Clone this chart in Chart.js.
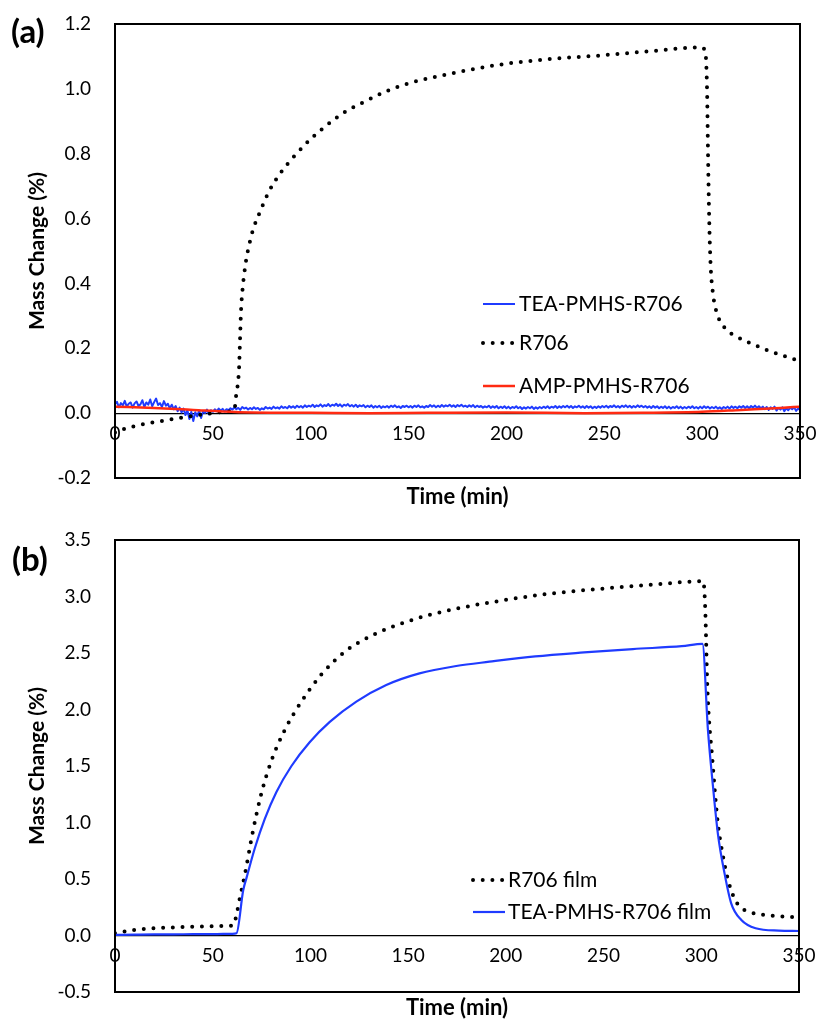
<!DOCTYPE html>
<html>
<head>
<meta charset="utf-8">
<script src="https://cdn.jsdelivr.net/npm/chart.js@4.4.1/dist/chart.umd.min.js"></script>
<style>
  html, body { margin: 0; padding: 0; background: #fff; }
  #wrap { position: relative; width: 819px; height: 1021px; }
  canvas { position: absolute; left: 0; }
  #chart-a { top: 0; }
  #chart-b { top: 510px; }
</style>
</head>
<body>
<div id="wrap">
  <canvas id="chart-a" width="819" height="510"></canvas>
  <canvas id="chart-b" width="819" height="511"></canvas>
</div>
<script>
// ---- ticks ----
const xTicks = [0, 50, 100, 150, 200, 250, 300, 350];
const yTicksA = [-0.2, 0, 0.2, 0.4, 0.6, 0.8, 1.0, 1.2];
const yTicksB = [-0.5, 0, 0.5, 1.0, 1.5, 2.0, 2.5, 3.0, 3.5];

// ---- data, panel (a) ----
const teaStepA = 1; // minutes between TEA-PMHS-R706 readings
const teaA = [
  0.028, 0.035, 0.018, 0.031, 0.024, 0.038, 0.020, 0.029, 0.033, 0.017,
  0.030, 0.036, 0.022, 0.027, 0.040, 0.019, 0.033, 0.026, 0.042, 0.021,
  0.034, 0.045, 0.025, 0.031, 0.019, 0.037, 0.023, 0.029, 0.015, 0.026,
  0.012, 0.022, 0.006, 0.017, 0.002, 0.014, -0.006, 0.009, -0.018, 0.004,
  -0.024, 0.003, -0.010, 0.008, -0.015, 0.006, 0.000, 0.011, -0.004, 0.009,
  0.004, 0.012, 0.006, 0.014, 0.008, 0.013, 0.005, 0.012, 0.009, 0.015,
  0.011, 0.018, 0.012, 0.016, 0.010, 0.019, 0.014, 0.017, 0.011, 0.016,
  0.012, 0.018, 0.013, 0.016, 0.010, 0.015, 0.012, 0.019, 0.014, 0.017,
  0.013, 0.020, 0.015, 0.018, 0.014, 0.021, 0.016, 0.019, 0.015, 0.022,
  0.017, 0.021, 0.016, 0.023, 0.018, 0.022, 0.017, 0.024, 0.019, 0.023,
  0.020, 0.026, 0.019, 0.024, 0.021, 0.027, 0.020, 0.025, 0.022, 0.028,
  0.021, 0.026, 0.023, 0.029, 0.022, 0.027, 0.020, 0.026, 0.023, 0.028,
  0.021, 0.025, 0.020, 0.026, 0.019, 0.024, 0.021, 0.025, 0.018, 0.023,
  0.019, 0.024, 0.017, 0.022, 0.018, 0.023, 0.016, 0.021, 0.018, 0.022,
  0.017, 0.023, 0.019, 0.024, 0.018, 0.021, 0.016, 0.022, 0.019, 0.023,
  0.018, 0.022, 0.017, 0.023, 0.019, 0.024, 0.018, 0.021, 0.017, 0.022,
  0.019, 0.025, 0.020, 0.024, 0.018, 0.023, 0.019, 0.025, 0.020, 0.024,
  0.021, 0.026, 0.020, 0.024, 0.019, 0.025, 0.021, 0.026, 0.020, 0.023,
  0.019, 0.024, 0.020, 0.025, 0.018, 0.023, 0.019, 0.022, 0.017, 0.021,
  0.018, 0.023, 0.016, 0.021, 0.017, 0.022, 0.015, 0.020, 0.016, 0.021,
  0.015, 0.020, 0.014, 0.019, 0.016, 0.021, 0.015, 0.019, 0.013, 0.018,
  0.014, 0.019, 0.015, 0.020, 0.013, 0.018, 0.014, 0.019, 0.015, 0.020,
  0.016, 0.021, 0.015, 0.020, 0.017, 0.022, 0.016, 0.021, 0.017, 0.022,
  0.018, 0.023, 0.017, 0.022, 0.016, 0.021, 0.018, 0.023, 0.017, 0.021,
  0.016, 0.022, 0.017, 0.021, 0.015, 0.020, 0.016, 0.021, 0.017, 0.022,
  0.018, 0.023, 0.017, 0.022, 0.019, 0.024, 0.018, 0.022, 0.017, 0.023,
  0.019, 0.024, 0.018, 0.023, 0.017, 0.022, 0.018, 0.024, 0.019, 0.023,
  0.018, 0.022, 0.017, 0.021, 0.016, 0.022, 0.017, 0.021, 0.015, 0.020,
  0.016, 0.021, 0.015, 0.020, 0.014, 0.019, 0.016, 0.021, 0.015, 0.020,
  0.014, 0.019, 0.015, 0.020, 0.016, 0.021, 0.015, 0.019, 0.014, 0.020,
  0.015, 0.021, 0.016, 0.020, 0.014, 0.019, 0.015, 0.020, 0.014, 0.018,
  0.013, 0.019, 0.015, 0.020, 0.014, 0.021, 0.016, 0.020, 0.015, 0.021,
  0.017, 0.022, 0.016, 0.021, 0.015, 0.022, 0.017, 0.023, 0.016, 0.021,
  0.015, 0.020, 0.012, 0.019, 0.010, 0.018, 0.013, 0.020, 0.008, 0.016,
  0.011, 0.018, 0.006, 0.015, 0.009, 0.017, 0.012, 0.018, 0.007, 0.014,
  0.010
];

const r706TimeA = [0, 5, 10, 20, 30, 40, 50, 58, 61, 61.8, 63.4, 63.9, 64.4, 65.1, 66.8, 68.6, 70.7, 73.7,
  78.7, 84.6, 92, 99.6, 108.2, 117.5, 127.7, 138.8, 150.7, 163, 175.4, 197, 222, 248, 273, 299, 301.5,
  302.5, 303, 303.6, 304.3, 305.5, 308, 312, 318, 325, 335, 345, 350];
const r706A = [-0.060, -0.048, -0.040, -0.028, -0.018, -0.008, 0.000, 0.005, 0.010, 0.050, 0.140, 0.230,
  0.317, 0.377, 0.464, 0.520, 0.569, 0.615, 0.684, 0.741, 0.795, 0.843, 0.888, 0.929, 0.961, 0.993, 1.018,
  1.036, 1.052, 1.075, 1.092, 1.103, 1.116, 1.128, 1.118, 1.0, 0.8, 0.6, 0.46, 0.37, 0.30, 0.26, 0.235,
  0.215, 0.19, 0.17, 0.16];

const ampTimeA = [0, 20, 40, 55, 70, 100, 130, 160, 200, 240, 270, 300, 320, 340, 350];
const ampA = [0.020, 0.016, 0.010, 0.005, 0.002, 0.001, 0.000, 0.001, 0.002, 0.000, 0.001, 0.004, 0.010, 0.016, 0.020];

// ---- data, panel (b) ----
const r706FilmTime = [0, 3, 10, 20, 30, 40, 50, 58, 60.5, 62, 63.5, 66.4, 70.7, 74.9, 80.1, 86.9, 95.4,
  105.6, 117.5, 132, 147.3, 159.3, 175.4, 200, 225, 250, 275, 301, 302, 303.1, 305.7, 308.3, 310.8,
  314.2, 318.5, 324.5, 333, 344.9, 350];
const r706Film = [0.02, 0.03, 0.05, 0.065, 0.072, 0.078, 0.082, 0.086, 0.09, 0.17, 0.30, 0.535, 0.934,
  1.258, 1.55, 1.82, 2.07, 2.31, 2.51, 2.66, 2.765, 2.83, 2.895, 2.97, 3.03, 3.07, 3.105, 3.135, 2.9,
  2.2, 1.55, 1.02, 0.73, 0.46, 0.28, 0.21, 0.18, 0.166, 0.16];

const teaFilmTime = [0, 10, 20, 30, 40, 50, 60, 62.2, 65.6, 67.3, 71.5, 76.6, 82.6, 90.3, 99.6, 109.9, 123.5,
  138.8, 155.8, 174.6, 191.6, 215, 240, 265, 290, 300.6, 303.4, 306, 308.5, 311.9, 315.3, 320.5, 327.8,
  339.7, 350];
const teaFilm = [0.005, 0.008, 0.010, 0.010, 0.012, 0.012, 0.015, 0.02, 0.40, 0.51, 0.77, 1.03, 1.27,
  1.50, 1.71, 1.89, 2.07, 2.217, 2.32, 2.385, 2.423, 2.47, 2.505, 2.535, 2.56, 2.58, 1.82, 1.317, 0.90,
  0.55, 0.285, 0.137, 0.064, 0.043, 0.04];

// ---- helpers ----
const FONT = "Lato, 'Open Sans', sans-serif";
const BLUE = "#1f3bff";
const RED = "#ff2a12";
Chart.defaults.color = "#000";
Chart.defaults.font.family = FONT;

function pairs(xs, ys) {
  return ys.map((y, i) => ({ x: xs[i], y: y }));
}

const frame = {
  id: "frame",
  afterDatasetsDraw(chart) {
    const a = chart.chartArea;
    const ctx = chart.ctx;
    ctx.save();
    ctx.lineWidth = 2;
    ctx.strokeStyle = "#000";
    ctx.strokeRect(a.left, a.top, a.right - a.left, a.bottom - a.top);
    ctx.restore();
  }
};

const panelLabel = {
  id: "panelLabel",
  afterDraw(chart, args, opts) {
    const ctx = chart.ctx;
    ctx.save();
    ctx.font = "bold 33px " + FONT;
    ctx.fillStyle = "#000";
    ctx.textBaseline = "middle";
    ctx.fillText(opts.text, opts.x, opts.y);
    ctx.restore();
  }
};

// legend drawn inside the plot, like the original
const innerLegend = {
  id: "innerLegend",
  afterDraw(chart, args, opts) {
    const ctx = chart.ctx;
    ctx.save();
    ctx.font = "21px " + FONT;
    ctx.textBaseline = "middle";
    opts.items.forEach(item => {
      const ds = chart.data.datasets[item.index];
      ctx.beginPath();
      ctx.lineWidth = ds.borderWidth;
      ctx.strokeStyle = ds.borderColor;
      ctx.lineCap = ds.borderCapStyle || "butt";
      ctx.setLineDash(ds.borderDash || []);
      ctx.moveTo(opts.x, item.y);
      ctx.lineTo(opts.x + opts.len, item.y);
      ctx.stroke();
      ctx.setLineDash([]);
      ctx.fillStyle = "#000";
      ctx.fillText(ds.label, opts.x + opts.len + opts.gap, item.y);
    });
    ctx.restore();
  }
};

// keep tick label overhang from pushing the plot area around
function noOverhang(s) {
  s.paddingTop = 0;
  s.paddingBottom = 0;
  s.paddingLeft = 0;
  s.paddingRight = 0;
}

function scalesFor(yMin, yMax, yTicks, bottomH) {
  return {
    x: {
      type: "linear",
      min: 0,
      max: 350,
      position: { y: 0 },
      afterBuildTicks: s => { s.ticks = xTicks.map(v => ({ value: v })); },
      afterFit: noOverhang,
      grid: { display: false, drawTicks: false },
      border: { display: true, color: "#000", width: 1.2 },
      ticks: { padding: 9, maxRotation: 0, font: { size: 19 } }
    },
    x2: {
      type: "linear",
      min: 0,
      max: 350,
      position: "bottom",
      afterFit: s => { noOverhang(s); s.height = bottomH; },
      grid: { display: false, drawTicks: false },
      border: { display: false },
      ticks: { display: false },
      title: { display: true, text: "Time (min)", font: { size: 22, weight: "bold" }, padding: 0 }
    },
    y: {
      type: "linear",
      min: yMin,
      max: yMax,
      afterBuildTicks: s => { s.ticks = yTicks.map(v => ({ value: v })); },
      afterFit: s => { noOverhang(s); s.width = 115; },
      grid: { display: false, drawTicks: false },
      border: { display: false },
      ticks: { padding: 24, font: { size: 19 }, callback: v => v.toFixed(1) },
      title: {
        display: true, text: "Mass Change (%)",
        font: { size: 21, weight: "bold" }, padding: { top: 25, bottom: 0 }
      }
    }
  };
}

const lineBase = {
  pointRadius: 0,
  pointHoverRadius: 0,
  fill: false,
  cubicInterpolationMode: "monotone",
  borderJoinStyle: "round"
};

const dotted = { borderColor: "#000", borderWidth: 4, borderDash: [0, 9.7], borderCapStyle: "round" };

// ---- chart (a) ----
new Chart(document.getElementById("chart-a"), {
  type: "line",
  data: {
    datasets: [
      Object.assign({}, lineBase, {
        label: "TEA-PMHS-R706",
        data: teaA.map((v, i) => ({ x: i * teaStepA, y: v })),
        borderColor: BLUE, borderWidth: 2, cubicInterpolationMode: "default", tension: 0, order: 3
      }),
      Object.assign({}, lineBase, dotted, {
        label: "R706",
        data: pairs(r706TimeA, r706A), order: 2
      }),
      Object.assign({}, lineBase, {
        label: "AMP-PMHS-R706",
        data: pairs(ampTimeA, ampA),
        borderColor: RED, borderWidth: 2.5, order: 1
      })
    ]
  },
  options: {
    responsive: false,
    animation: false,
    layout: { padding: { top: 24, right: 19, bottom: 0, left: 0 } },
    scales: scalesFor(-0.2, 1.2, yTicksA, 32),
    plugins: {
      legend: { display: false },
      tooltip: { enabled: false },
      panelLabel: { text: "(a)", x: 11, y: 32 },
      innerLegend: {
        x: 483, len: 32, gap: 4,
        items: [{ index: 0, y: 304 }, { index: 1, y: 343 }, { index: 2, y: 386 }]
      }
    }
  },
  plugins: [frame, panelLabel, innerLegend]
});

// ---- chart (b) ----
new Chart(document.getElementById("chart-b"), {
  type: "line",
  data: {
    datasets: [
      Object.assign({}, lineBase, dotted, {
        label: "R706 film",
        data: pairs(r706FilmTime, r706Film), order: 2
      }),
      Object.assign({}, lineBase, {
        label: "TEA-PMHS-R706 film",
        data: pairs(teaFilmTime, teaFilm),
        borderColor: BLUE, borderWidth: 2.2, order: 1
      })
    ]
  },
  options: {
    responsive: false,
    animation: false,
    layout: { padding: { top: 30, right: 20, bottom: 0, left: 0 } },
    scales: scalesFor(-0.5, 3.5, yTicksB, 29),
    plugins: {
      legend: { display: false },
      tooltip: { enabled: false },
      panelLabel: { text: "(b)", x: 12, y: 50 },
      innerLegend: {
        x: 473, len: 32, gap: 3,
        items: [{ index: 0, y: 370 }, { index: 1, y: 402 }]
      }
    }
  },
  plugins: [frame, panelLabel, innerLegend]
});
</script>
</body>
</html>
